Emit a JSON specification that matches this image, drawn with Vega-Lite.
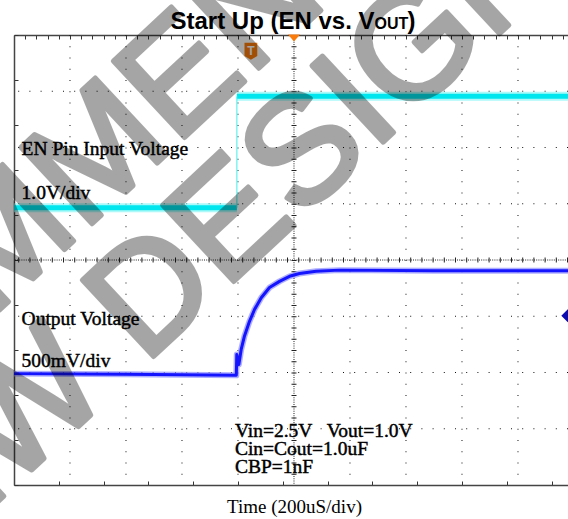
{
  "$schema": "https://vega.github.io/schema/vega-lite/v6.json",
  "width": 554,
  "height": 450,
  "autosize": {"type": "none"},
  "padding": {"left": 14, "top": 35, "right": 0, "bottom": 34},
  "background": "white",
  "config": {"view": {"stroke": null}},
  "datasets": {
    "gridx": [{"t": -800}, {"t": -600}, {"t": -400}, {"t": -200}, {"t": 200}, {"t": 400}, {"t": 600}, {"t": 800}],
    "gridy": [{"div": -3}, {"div": -2}, {"div": -1}, {"div": 1}, {"div": 2}, {"div": 3}],
    "center": [{"t": 0, "div": 0}],
    "en": [
      {"t": -1000, "div": 0.93, "seg": "low"},
      {"t": -204, "div": 0.93, "seg": "low"},
      {"t": -204, "div": 0.93, "seg": "edge"},
      {"t": -204, "div": 2.91, "seg": "edge"},
      {"t": -204, "div": 2.91, "seg": "high"},
      {"t": 978.6, "div": 2.91, "seg": "high"}
    ],
    "vout": [
      {"t": -1000, "div": -2.02},
      {"t": -600, "div": -2.03},
      {"t": -206, "div": -2.05},
      {"t": -204.3, "div": -1.68},
      {"t": -197, "div": -1.86},
      {"t": -188.6, "div": -1.59},
      {"t": -176.8, "div": -1.35},
      {"t": -158.9, "div": -1.09},
      {"t": -141, "div": -0.88},
      {"t": -117, "div": -0.67},
      {"t": -87.5, "div": -0.49},
      {"t": -51.8, "div": -0.38},
      {"t": -16, "div": -0.29},
      {"t": 19.6, "div": -0.24},
      {"t": 79, "div": -0.2},
      {"t": 162.5, "div": -0.18},
      {"t": 500, "div": -0.19},
      {"t": 978.6, "div": -0.19}
    ],
    "labels": [
      {"t": -973, "div": 1.86, "text": "EN Pin Input Voltage"},
      {"t": -973, "div": 1.08, "text": "1.0V/div"},
      {"t": -973, "div": -1.16, "text": "Output Voltage"},
      {"t": -973, "div": -1.91, "text": "500mV/div"},
      {"t": -211, "div": -3.15, "text": "Vin=2.5V\u00a0\u00a0 Vout=1.0V"},
      {"t": -211, "div": -3.47, "text": "Cin=Cout=1.0uF"},
      {"t": -211, "div": -3.78, "text": "CBP=1nF"}
    ],
    "watermark": [
      {"t": -741, "div": 1.67, "text": "NOT RECOMMENDED FOR"},
      {"t": -403, "div": -0.14, "text": "NEW DESIGN"}
    ]
  },
  "layer": [
    {
      "layer": [
        {
          "data": {"name": "gridx"},
          "mark": {"type": "rule", "color": "#111", "strokeWidth": 1, "strokeDash": [1, 10.25]},
          "encoding": {"x": {"field": "t", "type": "quantitative"}}
        },
        {
          "data": {"name": "gridy"},
          "mark": {"type": "rule", "color": "#111", "strokeWidth": 1, "strokeDash": [1, 10.2]},
          "encoding": {"y": {"field": "div", "type": "quantitative"}}
        },
        {
          "data": {"name": "center"},
          "mark": {"type": "rule", "color": "#222", "strokeWidth": 1, "strokeDash": [1, 1.25]},
          "encoding": {"x": {"field": "t", "type": "quantitative"}}
        },
        {
          "data": {"name": "center"},
          "mark": {"type": "rule", "color": "#222", "strokeWidth": 1, "strokeDash": [1, 1.2]},
          "encoding": {"y": {"field": "div", "type": "quantitative"}}
        },
        {
          "data": {"name": "center"},
          "mark": {"type": "rule", "color": "#222", "strokeWidth": 5, "strokeDash": [1, 10.25]},
          "encoding": {"x": {"field": "t", "type": "quantitative"}}
        },
        {
          "data": {"name": "center"},
          "mark": {"type": "rule", "color": "#222", "strokeWidth": 5, "strokeDash": [1, 10.2]},
          "encoding": {"y": {"field": "div", "type": "quantitative"}}
        },
        {
          "data": {"name": "en"},
          "transform": [{"filter": "datum.seg !== 'edge'"}],
          "mark": {"type": "line", "color": "#8af7f7", "strokeWidth": 9, "opacity": 0.7, "strokeCap": "butt"},
          "encoding": {
            "x": {"field": "t", "type": "quantitative"},
            "y": {"field": "div", "type": "quantitative"},
            "detail": {"field": "seg"}
          }
        },
        {
          "data": {"name": "en"},
          "transform": [{"filter": "datum.seg !== 'edge'"}],
          "mark": {"type": "line", "color": "#00e6ef", "strokeWidth": 5, "strokeCap": "butt"},
          "encoding": {
            "x": {"field": "t", "type": "quantitative"},
            "y": {"field": "div", "type": "quantitative"},
            "detail": {"field": "seg"}
          }
        },
        {
          "data": {"name": "en"},
          "transform": [{"filter": "datum.seg === 'edge'"}],
          "mark": {"type": "line", "color": "#40eef0", "strokeWidth": 1},
          "encoding": {
            "x": {"field": "t", "type": "quantitative"},
            "y": {"field": "div", "type": "quantitative"}
          }
        },
        {
          "data": {"name": "vout"},
          "mark": {"type": "line", "color": "#8c8cff", "strokeWidth": 6, "opacity": 0.7, "strokeJoin": "round"},
          "encoding": {
            "x": {"field": "t", "type": "quantitative"},
            "y": {"field": "div", "type": "quantitative"}
          }
        },
        {
          "data": {"name": "vout"},
          "mark": {"type": "line", "color": "#1414ff", "strokeWidth": 3, "strokeJoin": "round"},
          "encoding": {
            "x": {
              "field": "t",
              "type": "quantitative",
              "scale": {"domain": [-1000, 978.6], "nice": false, "zero": false},
              "axis": {
                "orient": "bottom",
                "values": [-1000,-960,-920,-880,-840,-800,-760,-720,-680,-640,-600,-560,-520,-480,-440,-400,-360,-320,-280,-240,-200,-160,-120,-80,-40,0,40,80,120,160,200,240,280,320,360,400,440,480,520,560,600,640,680,720,760,800,840,880,920,960],
                "labels": false,
                "ticks": true,
                "tickSize": -4,
                "tickColor": "#333",
                "tickWidth": 1,
                "domain": true,
                "domainColor": "#444",
                "domainWidth": 1.5,
                "grid": false,
                "title": "Time (200uS/div)",
                "titleFont": "Liberation Serif",
                "titleFontSize": 19,
                "titleFontWeight": "normal",
                "titleColor": "black",
                "titleX": 280,
                "titleY": 27,
                "titleAlign": "center",
                "titleBaseline": "alphabetic"
              }
            },
            "y": {
              "field": "div",
              "type": "quantitative",
              "scale": {"domain": [-4, 4], "nice": false, "zero": false},
              "axis": {
                "orient": "left",
                "values": [-4,-3.8,-3.6,-3.4,-3.2,-3,-2.8,-2.6,-2.4,-2.2,-2,-1.8,-1.6,-1.4,-1.2,-1,-0.8,-0.6,-0.4,-0.2,0,0.2,0.4,0.6,0.8,1,1.2,1.4,1.6,1.8,2,2.2,2.4,2.6,2.8,3,3.2,3.4,3.6,3.8,4],
                "labels": false,
                "ticks": true,
                "tickSize": -4,
                "tickColor": "#333",
                "tickWidth": 1,
                "domain": true,
                "domainColor": "#444",
                "domainWidth": 1.5,
                "grid": false,
                "title": null
              }
            }
          }
        },
        {
          "data": {"name": "labels"},
          "mark": {"type": "text", "font": "Liberation Serif", "fontSize": 19.5, "color": "black", "stroke": "black", "strokeWidth": 0.45, "align": "left", "baseline": "alphabetic"},
          "encoding": {
            "x": {"field": "t", "type": "quantitative"},
            "y": {"field": "div", "type": "quantitative"},
            "text": {"field": "text", "type": "nominal"}
          }
        },
        {
          "data": {"values": [{"t": -154, "div": 3.71}]},
          "mark": {"type": "point", "shape": "M-0.75,-1L0.75,-1L0.75,0.55L0,1L-0.75,0.55Z", "size": 289, "filled": true, "color": "#f97b0c", "opacity": 1},
          "encoding": {
            "x": {"field": "t", "type": "quantitative"},
            "y": {"field": "div", "type": "quantitative"}
          }
        },
        {
          "data": {"values": [{"t": -154, "div": 3.71, "text": "T"}]},
          "mark": {"type": "text", "font": "Liberation Sans", "fontSize": 12, "fontWeight": "bold", "color": "white", "align": "center", "baseline": "middle"},
          "encoding": {
            "x": {"field": "t", "type": "quantitative"},
            "y": {"field": "div", "type": "quantitative"},
            "text": {"field": "text", "type": "nominal"}
          }
        },
        {
          "data": {"values": [{"t": 978, "div": -0.99}]},
          "mark": {"type": "point", "shape": "diamond", "size": 169, "filled": true, "color": "#0b0bb0", "opacity": 1},
          "encoding": {
            "x": {"field": "t", "type": "quantitative"},
            "y": {"field": "div", "type": "quantitative"}
          }
        },
        {
          "data": {"values": [{"t": 287.5, "div": 4.098, "text": "Start Up (EN vs. V"}]},
          "mark": {"type": "text", "font": "Liberation Sans", "fontSize": 24, "fontWeight": "bold", "color": "black", "align": "right", "baseline": "alphabetic"},
          "encoding": {
            "x": {"field": "t", "type": "quantitative"},
            "y": {"field": "div", "type": "quantitative"},
            "text": {"field": "text", "type": "nominal"}
          }
        },
        {
          "data": {"values": [{"t": 287.5, "div": 4.098, "text": "OUT"}]},
          "mark": {"type": "text", "font": "Liberation Sans", "fontSize": 16, "fontWeight": "bold", "color": "black", "align": "left", "baseline": "alphabetic"},
          "encoding": {
            "x": {"field": "t", "type": "quantitative"},
            "y": {"field": "div", "type": "quantitative"},
            "text": {"field": "text", "type": "nominal"}
          }
        },
        {
          "data": {"values": [{"t": 405.4, "div": 4.098, "text": ")"}]},
          "mark": {"type": "text", "font": "Liberation Sans", "fontSize": 24, "fontWeight": "bold", "color": "black", "align": "left", "baseline": "alphabetic"},
          "encoding": {
            "x": {"field": "t", "type": "quantitative"},
            "y": {"field": "div", "type": "quantitative"},
            "text": {"field": "text", "type": "nominal"}
          }
        },
        {
          "data": {"name": "watermark"},
          "mark": {"type": "text", "font": "Liberation Sans", "fontSize": 152, "fontWeight": "normal", "color": "black", "stroke": "black", "strokeWidth": 5, "strokeJoin": "round", "opacity": 0.35, "angle": -43, "align": "center", "baseline": "middle"},
          "encoding": {
            "x": {"field": "t", "type": "quantitative"},
            "y": {"field": "div", "type": "quantitative"},
            "text": {"field": "text", "type": "nominal"}
          }
        }
      ]
    },
    {
      "data": {"values": [{"t": 0, "div": 3.947}]},
      "mark": {"type": "point", "shape": "M-1,-0.6L1,-0.6L0,0.6Z", "size": 144, "filled": true, "color": "#f97b0c", "opacity": 1},
      "encoding": {
        "x": {
          "field": "t",
          "type": "quantitative",
          "axis": {
            "orient": "top",
            "values": [-1000,-960,-920,-880,-840,-800,-760,-720,-680,-640,-600,-560,-520,-480,-440,-400,-360,-320,-280,-240,-200,-160,-120,-80,-40,0,40,80,120,160,200,240,280,320,360,400,440,480,520,560,600,640,680,720,760,800,840,880,920,960],
            "labels": false,
            "ticks": true,
            "tickSize": -4,
            "tickColor": "#333",
            "tickWidth": 1,
            "domain": true,
            "domainColor": "#444",
            "domainWidth": 1.5,
            "grid": false,
            "title": null
          }
        },
        "y": {"field": "div", "type": "quantitative", "axis": null}
      }
    }
  ],
  "resolve": {"axis": {"x": "independent", "y": "independent"}}
}
